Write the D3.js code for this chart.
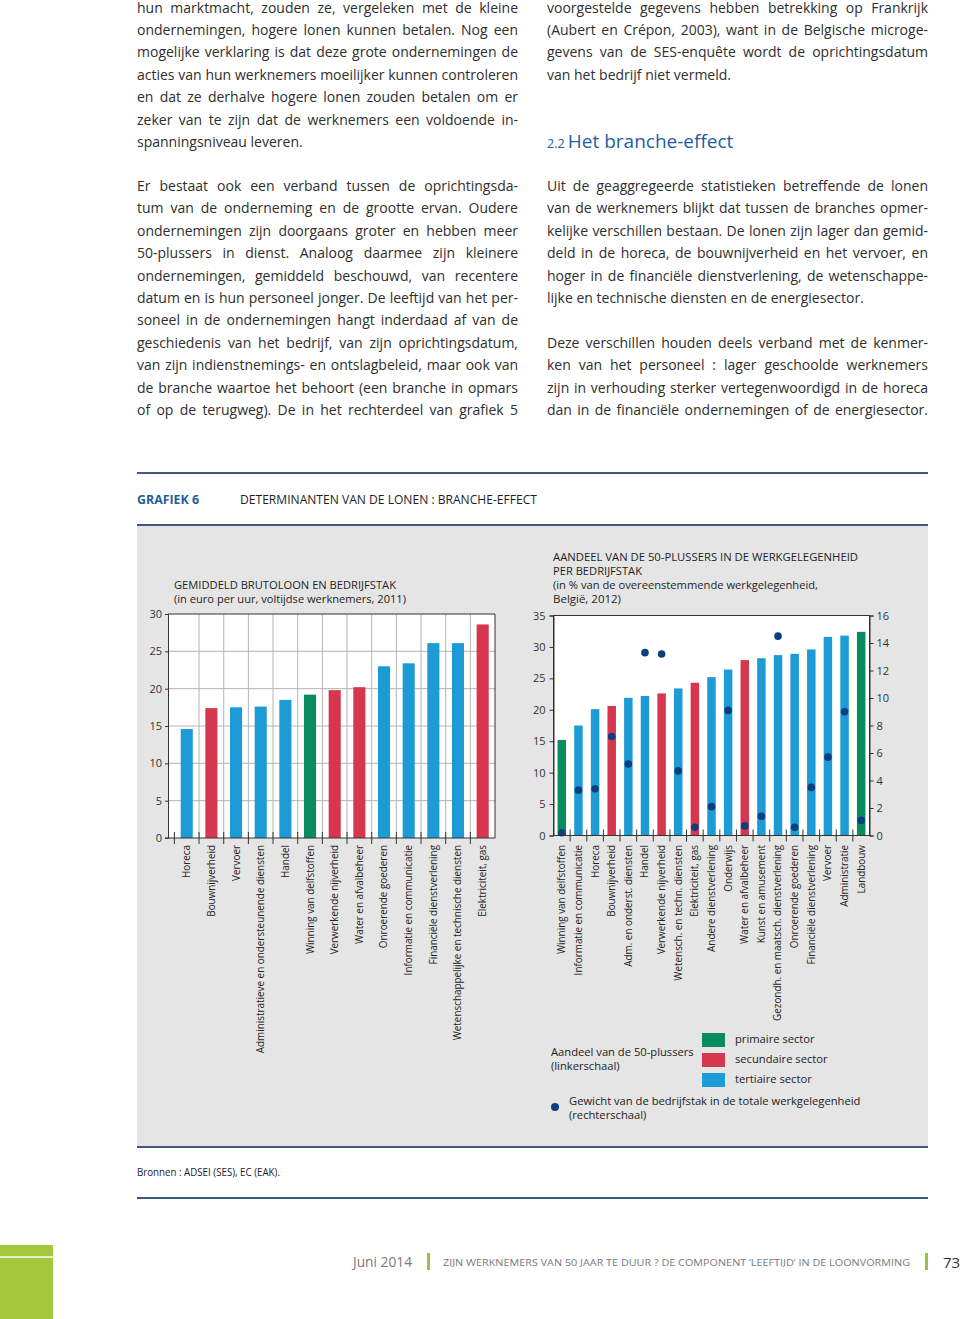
<!DOCTYPE html>
<html>
<head>
<meta charset="utf-8">
<script src="https://cdn.jsdelivr.net/npm/d3@7"></script>
<style>
  body { margin: 0; background: #fff; }
  svg { display: block; }
  text { font-family: "Open Sans", "Noto Sans", sans-serif; }
</style>
</head>
<body>
<svg id="page" width="960" height="1319"></svg>
<script>
// ---------------- DATA ----------------
const wageCats = ["Horeca","Bouwnijverheid","Vervoer","Administratieve en ondersteunende diensten","Handel","Winning van delfstoffen","Verwerkende nijverheid","Water en afvalbeheer","Onroerende goederen","Informatie en communicatie","Financiële dienstverlening","Wetenschappelijke en technische diensten","Elektriciteit, gas"];
const wageValues = [14.6,17.4,17.5,17.6,18.5,19.2,19.8,20.2,23.0,23.4,26.1,26.1,28.6];
const wageSector = ["t","s","t","t","t","p","s","s","t","t","t","t","s"];
const wageTicks = [0,5,10,15,20,25,30];

const ageCats = ["Winning van delfstoffen","Informatie en communicatie","Horeca","Bouwnijverheid","Adm. en onderst. diensten","Handel","Verwerkende nijverheid","Wetensch. en techn. diensten","Elektriciteit, gas","Andere dienstverlening","Onderwijs","Water en afvalbeheer","Kunst en amusement","Gezondh. en maatsch. dienstverlening","Onroerende goederen","Financiële dienstverlening","Vervoer","Administratie","Landbouw"];
const shareOver50 = [15.2,17.5,20.1,20.6,21.9,22.2,22.6,23.4,24.3,25.2,26.4,27.9,28.2,28.7,28.9,29.6,31.6,31.8,32.4];
const ageSector = ["p","t","t","s","t","t","s","t","s","t","t","s","t","t","t","t","t","t","p"];
const employmentWeight = [0.2,3.3,3.4,7.2,5.2,13.3,13.2,4.7,0.6,2.1,9.1,0.7,1.4,14.5,0.6,3.5,5.7,9.0,1.1];
const shareTicks = [0,5,10,15,20,25,30,35];
const weightTicks = [0,2,4,6,8,10,12,14,16];

const sectorNames = {p:"primaire sector", s:"secundaire sector", t:"tertiaire sector"};
const sectorKeys = ["p","s","t"];

// body text
const leftParaA = [
 "hun marktmacht, zouden ze, vergeleken met de kleine",
 "ondernemingen, hogere lonen kunnen betalen. Nog een",
 "mogelijke verklaring is dat deze grote ondernemingen de",
 "acties van hun werknemers moeilijker kunnen controleren",
 "en dat ze derhalve hogere lonen zouden betalen om er",
 "zeker van te zijn dat de werknemers een voldoende in-",
 "spanningsniveau leveren."];
const leftParaB = [
 "Er bestaat ook een verband tussen de oprichtingsda-",
 "tum van de onderneming en de grootte ervan. Oudere",
 "ondernemingen zijn doorgaans groter en hebben meer",
 "50-plussers in dienst. Analoog daarmee zijn kleinere",
 "ondernemingen, gemiddeld beschouwd, van recentere",
 "datum en is hun personeel jonger. De leeftijd van het per-",
 "soneel in de ondernemingen hangt inderdaad af van de",
 "geschiedenis van het bedrijf, van zijn oprichtingsdatum,",
 "van zijn indienstnemings- en ontslagbeleid, maar ook van",
 "de branche waartoe het behoort (een branche in opmars",
 "of op de terugweg). De in het rechterdeel van grafiek 5"];
const rightParaA = [
 "voorgestelde gegevens hebben betrekking op Frankrijk",
 "(Aubert en Crépon, 2003), want in de Belgische microge-",
 "gevens van de SES-enquête wordt de oprichtingsdatum",
 "van het bedrijf niet vermeld."];
const rightParaB = [
 "Uit de geaggregeerde statistieken betreffende de lonen",
 "van de werknemers blijkt dat tussen de branches opmer-",
 "kelijke verschillen bestaan. De lonen zijn lager dan gemid-",
 "deld in de horeca, de bouwnijverheid en het vervoer, en",
 "hoger in de financiële dienstverlening, de wetenschappe-",
 "lijke en technische diensten en de energiesector."];
const rightParaC = [
 "Deze verschillen houden deels verband met de kenmer-",
 "ken van het personeel : lager geschoolde werknemers",
 "zijn in verhouding sterker vertegenwoordigd in de horeca",
 "dan in de financiële ondernemingen of de energiesector."];

// ---------------- STYLE ----------------
const colors = {p:"#0b8b60", s:"#d7364f", t:"#1c9bd7"};
const dotColor = "#0d3f7e";
const textColor = "#2e2e2e";
const ruleColor = "#3d5b80";
const panelColor = "#e5e5e5";

const svg = d3.select("#page");

// ---------------- BODY TEXT ----------------
const bodySize = 14;
function para(lines, x, y0, lh, width, justifyLast) {
  const g = svg.append("g").attr("fill", textColor).style("font-size", bodySize + "px");
  lines.forEach((line, i) => {
    const y = y0 + i * lh;
    const isLast = i === lines.length - 1;
    const words = line.split(" ");
    if (isLast && !justifyLast) {
      g.append("text").attr("x", x).attr("y", y).text(line);
      return;
    }
    const els = words.map(w => g.append("text").attr("y", y).text(w));
    const widths = els.map(e => e.node().getComputedTextLength());
    const total = d3.sum(widths);
    let gap = (width - total) / (words.length - 1);
    if (gap < 2) {
      els.forEach(e => e.remove());
      g.append("text").attr("x", x).attr("y", y).attr("textLength", width)
        .attr("lengthAdjust", "spacingAndGlyphs").text(line);
      return;
    }
    let cx = x;
    els.forEach((e, k) => { e.attr("x", cx); cx += widths[k] + gap; });
  });
}
para(leftParaA, 137, 12.5, 22.4, 381, false);
para(leftParaB, 137, 191, 22.4, 381, true);
para(rightParaA, 547, 12.5, 22.4, 381, false);
para(rightParaB, 547, 191, 22.4, 381, false);
para(rightParaC, 547, 348, 22.4, 381, true);

const head = svg.append("text").attr("x", 547).attr("y", 148).attr("fill", "#1f5e9e");
head.append("tspan").style("font-size", "12.5px").text("2.2 ");
head.append("tspan").style("font-size", "19px").text("Het branche-effect");

// ---------------- GRAFIEK HEADER ----------------
svg.append("rect").attr("x", 137).attr("y", 472).attr("width", 791).attr("height", 2).attr("fill", ruleColor);
svg.append("text").attr("x", 137).attr("y", 504).attr("fill", "#1f5e9e").style("font-size", "12px")
  .style("font-weight", "bold").attr("textLength", 62).attr("lengthAdjust", "spacingAndGlyphs").text("GRAFIEK 6");
svg.append("text").attr("x", 240).attr("y", 504).attr("fill", "#1e1e1e").style("font-size", "12.5px")
  .attr("textLength", 297).attr("lengthAdjust", "spacingAndGlyphs").text("DETERMINANTEN VAN DE LONEN : BRANCHE-EFFECT");
svg.append("rect").attr("x", 137).attr("y", 524).attr("width", 791).attr("height", 2).attr("fill", ruleColor);

svg.append("rect").attr("x", 137).attr("y", 526).attr("width", 791).attr("height", 620).attr("fill", panelColor);
svg.append("rect").attr("x", 137).attr("y", 1146).attr("width", 791).attr("height", 2).attr("fill", ruleColor);

function condText(x, y, str, len, size) {
  svg.append("text").attr("x", x).attr("y", y).attr("fill", "#1e1e1e").style("font-size", (size || 11) + "px")
    .attr("textLength", len).attr("lengthAdjust", "spacingAndGlyphs").text(str);
}

// ---------------- LEFT CHART ----------------
condText(174, 589, "GEMIDDELD BRUTOLOON EN BEDRIJFSTAK", 222);
condText(174, 603, "(in euro per uur, voltijdse werknemers, 2011)", 232);

const L = {left: 168, right: 495, top: 614, bottom: 838, bandStart: 174.4};
const xL = d3.scaleBand().domain(wageCats).range([L.bandStart, L.right]).paddingInner(0).paddingOuter(0);
const yL = d3.scaleLinear().domain([0, 30]).range([L.bottom, L.top]);

const gL = svg.append("g");
gL.append("rect").attr("x", L.left).attr("y", L.top).attr("width", L.right - L.left).attr("height", L.bottom - L.top).attr("fill", "#fff");
gL.selectAll("line.hg").data(wageTicks.filter(t => t > 0 && t < 30)).join("line")
  .attr("x1", L.left).attr("x2", L.right).attr("y1", d => yL(d)).attr("y2", d => yL(d))
  .attr("stroke", "#b4b4b4").attr("stroke-width", 1);
gL.selectAll("line.vg").data(wageCats.slice(1)).join("line")
  .attr("x1", d => xL(d)).attr("x2", d => xL(d)).attr("y1", L.top).attr("y2", L.bottom)
  .attr("stroke", "#b4b4b4").attr("stroke-width", 1);
const bwL = xL.bandwidth() * 0.49;
gL.selectAll("rect.bar").data(wageValues).join("rect")
  .attr("x", (d, i) => xL(wageCats[i]) + xL.bandwidth() / 2 - bwL / 2)
  .attr("y", d => yL(d)).attr("width", bwL).attr("height", d => yL(0) - yL(d))
  .attr("fill", (d, i) => colors[wageSector[i]]);
gL.append("line").attr("x1", L.left).attr("x2", L.right).attr("y1", L.top).attr("y2", L.top).attr("stroke", "#333");
gL.append("line").attr("x1", L.right).attr("x2", L.right).attr("y1", L.top).attr("y2", L.bottom).attr("stroke", "#333");
gL.selectAll("line.bt").data(wageCats).join("line")
  .attr("x1", d => xL(d)).attr("x2", d => xL(d)).attr("y1", L.bottom - 6).attr("y2", L.bottom + 6)
  .attr("stroke", "#333");
const axL = gL.append("g").attr("transform", `translate(${L.left},0)`)
  .call(d3.axisLeft(yL).tickValues(wageTicks).tickSize(3).tickPadding(3));
axL.select(".domain").attr("stroke", "#333");
axL.selectAll(".tick line").attr("stroke", "#333");
axL.selectAll("text").style("font-size", "11px").attr("fill", "#333").style("font-family", '"Open Sans", sans-serif');
gL.append("line").attr("x1", L.left - 3).attr("x2", L.right).attr("y1", L.bottom).attr("y2", L.bottom).attr("stroke", "#333");
gL.selectAll("text.xl").data(wageCats).join("text")
  .attr("transform", d => `translate(${xL(d) + xL.bandwidth() / 2},845) rotate(-90)`)
  .attr("text-anchor", "end").attr("dy", "0.35em").attr("fill", "#222")
  .style("font-size", "9.9px").text(d => d);

// ---------------- RIGHT CHART ----------------
condText(553, 561, "AANDEEL VAN DE 50-PLUSSERS IN DE WERKGELEGENHEID", 305);
condText(553, 575, "PER BEDRIJFSTAK", 89);
condText(553, 589, "(in % van de overeenstemmende werkgelegenheid,", 265);
condText(553, 603, "België, 2012)", 68);

const R = {left: 553.5, right: 869.5, top: 615.5, bottom: 835.5};
const xR = d3.scaleBand().domain(ageCats).range([R.left, R.right]).paddingInner(0).paddingOuter(0);
const yR = d3.scaleLinear().domain([0, 35]).range([R.bottom, R.top]);
const yR2 = d3.scaleLinear().domain([0, 16]).range([R.bottom, R.top]);

const gR = svg.append("g");
gR.append("rect").attr("x", R.left).attr("y", R.top).attr("width", R.right - R.left).attr("height", R.bottom - R.top)
  .attr("fill", "#fff");
const bwR = xR.bandwidth() * 0.51;
gR.selectAll("rect.bar").data(shareOver50).join("rect")
  .attr("x", (d, i) => xR(ageCats[i]) + xR.bandwidth() / 2 - bwR / 2)
  .attr("y", d => yR(d)).attr("width", bwR).attr("height", d => yR(0) - yR(d))
  .attr("fill", (d, i) => colors[ageSector[i]]);
gR.selectAll("line.bt").data(ageCats.slice(1)).join("line")
  .attr("x1", d => xR(d)).attr("x2", d => xR(d)).attr("y1", R.bottom - 6).attr("y2", R.bottom + 6)
  .attr("stroke", "#333");
gR.selectAll("circle.dot").data(employmentWeight).join("circle")
  .attr("cx", (d, i) => xR(ageCats[i]) + xR.bandwidth() / 2).attr("cy", d => yR2(d)).attr("r", 3.8)
  .attr("fill", dotColor);
gR.append("rect").attr("x", R.left).attr("y", R.top).attr("width", R.right - R.left).attr("height", R.bottom - R.top)
  .attr("fill", "none").attr("stroke", "#333");
const axR1 = gR.append("g").attr("transform", `translate(${R.left},0)`)
  .call(d3.axisLeft(yR).tickValues(shareTicks).tickSize(4).tickPadding(4));
const axR2 = gR.append("g").attr("transform", `translate(${R.right},0)`)
  .call(d3.axisRight(yR2).tickValues(weightTicks).tickSize(4).tickPadding(3));
[axR1, axR2].forEach(a => {
  a.select(".domain").attr("stroke", "#333");
  a.selectAll(".tick line").attr("stroke", "#333");
  a.selectAll("text").style("font-size", "11px").attr("fill", "#333").style("font-family", '"Open Sans", sans-serif');
});
gR.selectAll("text.xl").data(ageCats).join("text")
  .attr("transform", d => `translate(${xR(d) + xR.bandwidth() / 2},845) rotate(-90)`)
  .attr("text-anchor", "end").attr("dy", "0.35em").attr("fill", "#222")
  .style("font-size", "9.9px").text(d => d);

// ---------------- LEGEND ----------------
const lg = svg.append("g").attr("fill", "#222").style("font-size", "11.2px");
lg.append("text").attr("x", 551).attr("y", 1056).text("Aandeel van de 50-plussers");
lg.append("text").attr("x", 551).attr("y", 1070).text("(linkerschaal)");
sectorKeys.forEach((k, i) => {
  lg.append("rect").attr("x", 702).attr("y", 1033 + i * 20).attr("width", 23).attr("height", 14).attr("fill", colors[k]);
  lg.append("text").attr("x", 735).attr("y", 1043 + i * 20).text(sectorNames[k]);
});
lg.append("circle").attr("cx", 555).attr("cy", 1107).attr("r", 4).attr("fill", dotColor);
lg.append("text").attr("x", 569).attr("y", 1105).text("Gewicht van de bedrijfstak in de totale werkgelegenheid");
lg.append("text").attr("x", 569).attr("y", 1119).text("(rechterschaal)");

// ---------------- SOURCE + FOOTER ----------------
svg.append("text").attr("x", 137).attr("y", 1176).attr("fill", "#222").style("font-size", "10.5px")
  .attr("textLength", 143).attr("lengthAdjust", "spacingAndGlyphs").text("Bronnen : ADSEI (SES), EC (EAK).");
svg.append("rect").attr("x", 137).attr("y", 1197).attr("width", 791).attr("height", 2).attr("fill", ruleColor);

svg.append("rect").attr("x", 0).attr("y", 1245).attr("width", 53).attr("height", 74).attr("fill", "#a5c73c");
svg.append("rect").attr("x", 0).attr("y", 1256).attr("width", 53).attr("height", 2).attr("fill", "#e8f1c8");
svg.append("text").attr("x", 353).attr("y", 1267).attr("fill", "#7a7a7a").style("font-size", "14px")
  .attr("textLength", 59).attr("lengthAdjust", "spacingAndGlyphs").text("Juni 2014");
svg.append("rect").attr("x", 427).attr("y", 1253).attr("width", 3).attr("height", 17).attr("fill", "#93c544");
svg.append("text").attr("x", 443).attr("y", 1266).attr("fill", "#7a7a7a").style("font-size", "9.5px")
  .attr("textLength", 467).attr("lengthAdjust", "spacingAndGlyphs")
  .text("ZIJN WERKNEMERS VAN 50 JAAR TE DUUR ? DE COMPONENT ‘LEEFTIJD’ IN DE LOONVORMING");
svg.append("rect").attr("x", 925).attr("y", 1253).attr("width", 3).attr("height", 17).attr("fill", "#93c544");
svg.append("text").attr("x", 943).attr("y", 1268).attr("fill", "#333").style("font-size", "15px").text("73");
</script>
</body>
</html>
